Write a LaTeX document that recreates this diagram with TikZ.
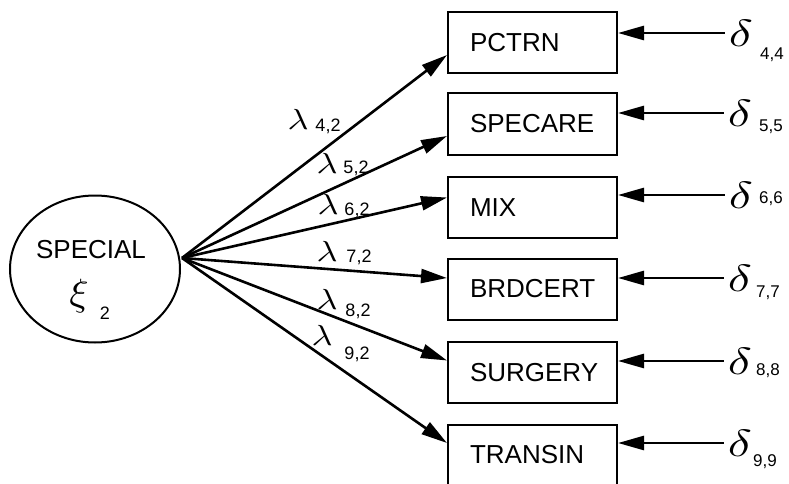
\documentclass[tikz,border=0pt]{standalone}
\usepackage{fontspec}
\setmainfont{Liberation Sans}
\usetikzlibrary{arrows.meta,shapes.geometric}
\newcommand{\biglam}{\scalebox{3.6}[2.9]{$\lambda$}}
\newcommand{\bigdel}{\scalebox{5.0}[3.8]{$\delta$}}
\begin{document}
\begin{tikzpicture}[x=1pt,y=-1pt,
  obsbox/.style={draw,line width=2pt,minimum height=61pt,text width=125pt,inner xsep=22pt,align=left,font=\fontsize{26}{26}\selectfont},
  latent/.style={draw,ellipse,line width=2pt,minimum width=170pt,minimum height=147pt},
  ld/.style={line width=2.6pt,-{Triangle[length=26pt,width=14pt]}},
  lam/.style={inner sep=0pt},
  lsub/.style={inner sep=0pt,font=\fontsize{18}{18}\selectfont},
  dlt/.style={inner sep=0pt,outer sep=4pt},
  dsub/.style={inner sep=0pt,font=\fontsize{17}{17}\selectfont}]
\useasboundingbox (0,0) rectangle (789,484);
% latent
\node[latent] (xi) at (95,269) {};
\node[inner sep=0pt,font=\fontsize{26}{26}\selectfont] (xiname) at (91,250) {SPECIAL};
\node[inner sep=0pt] (xisym) at (79,296) {\scalebox{4.0}[3.8]{$\xi$}};
\node[lsub] (xisub) at (105,313) {2};
\coordinate (src) at (182,258);
% boxes
\node[obsbox] (p4) at (532.5,43) {PCTRN};
\node[obsbox] (p5) at (532.5,124) {SPECARE};
\node[obsbox] (p6) at (532.5,207.5) {MIX};
\node[obsbox] (p7) at (532.5,289) {BRDCERT};
\node[obsbox] (p8) at (532.5,372.5) {SURGERY};
\node[obsbox] (p9) at (532.5,455) {TRANSIN};
% loadings
\draw[ld] (src) -- ([yshift=-12pt]p4.west);
\draw[ld] (src) -- ([yshift=-12pt]p5.west);
\draw[ld] (src) -- ([yshift=10pt]p6.west);
\draw[ld] (src) -- ([yshift=11pt]p7.west);
\draw[ld] (src) -- ([yshift=12pt]p8.west);
\draw[ld] (src) -- ([yshift=12pt]p9.west);
% lambda labels
\node[lam] (l4) at (298,119) {\biglam};
\node[lsub] (l4s) at (328,126) {4,2};
\node[lam] (l5) at (327,163) {\biglam};
\node[lsub] (l5s) at (356,168) {5,2};
\node[lam] (l6) at (328,204) {\biglam};
\node[lsub] (l6s) at (357,210) {6,2};
\node[lam] (l7) at (327,251) {\biglam};
\node[lsub] (l7s) at (359,257) {7,2};
\node[lam] (l8) at (327,299) {\biglam};
\node[lsub] (l8s) at (358,311) {8,2};
\node[lam] (l9) at (322,335) {\biglam};
\node[lsub] (l9s) at (357,354) {9,2};
% deltas
\node[dlt] (d4) at (741,33) {\bigdel};
\node[dsub] (d4s) at (772,55) {4,4};
\node[dlt] (d5) at (740,113) {\bigdel};
\node[dsub] (d5s) at (771,127) {5,5};
\node[dlt] (d6) at (741,195) {\bigdel};
\node[dsub] (d6s) at (771,199) {6,6};
\node[dlt] (d7) at (740,278) {\bigdel};
\node[dsub] (d7s) at (768,293) {7,7};
\node[dlt] (d8) at (740,361) {\bigdel};
\node[dsub] (d8s) at (768,371) {8,8};
\node[dlt] (d9) at (740,443) {\bigdel};
\node[dsub] (d9s) at (765,462) {9,9};
\draw[ld] (d4.west) -- (d4.west -| p4.east);
\draw[ld] (d5.west) -- (d5.west -| p5.east);
\draw[ld] (d6.west) -- (d6.west -| p6.east);
\draw[ld] (d7.west) -- (d7.west -| p7.east);
\draw[ld] (d8.west) -- (d8.west -| p8.east);
\draw[ld] (d9.west) -- (d9.west -| p9.east);
\end{tikzpicture}
\end{document}
